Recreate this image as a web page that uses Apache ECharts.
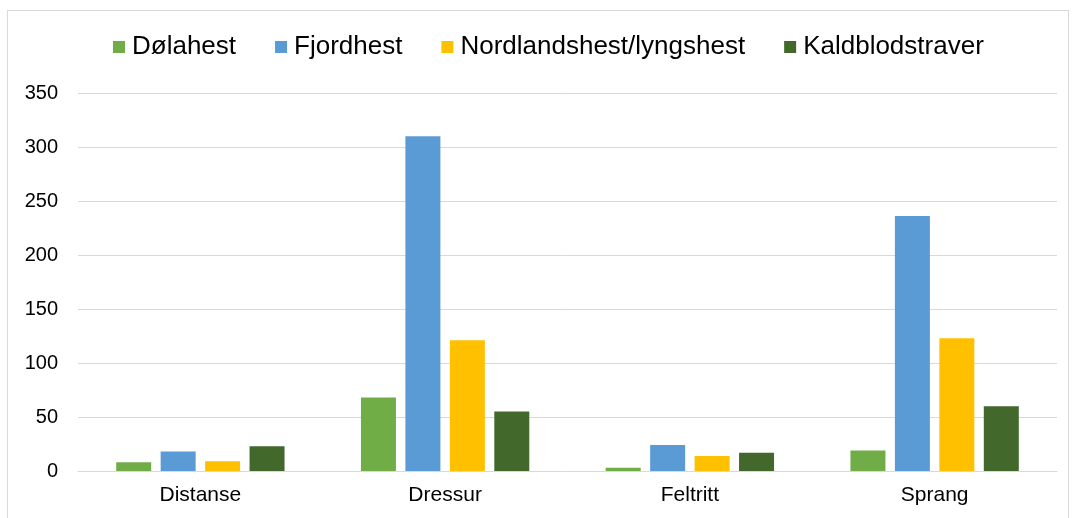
<!DOCTYPE html>
<html><head><meta charset="utf-8">
<script src="https://cdn.jsdelivr.net/npm/echarts@6/dist/echarts.min.js"></script>
<style>
html,body{margin:0;padding:0;background:#fff;}
#frame{position:absolute;left:7px;top:10px;width:1062px;height:520px;border:1px solid #d9d9d9;box-sizing:border-box;}
#chart{position:absolute;left:0;top:0;width:1072px;height:518px;}
</style></head>
<body>
<div id="frame"></div>
<div id="chart"></div>
<script>
const categories = ['Distanse', 'Dressur', 'Feltritt', 'Sprang'];
const seriesNames = ['Dølahest', 'Fjordhest', 'Nordlandshest/lyngshest', 'Kaldblodstraver'];
const dolahest = [8, 68, 3, 19];
const fjordhest = [18, 310, 24, 236];
const nordlandshest = [9, 121, 14, 123];
const kaldblodstraver = [23, 55, 17, 60];
const colors = ['#70AD47', '#5B9BD5', '#FFC000', '#43682B'];
const allValues = [dolahest, fjordhest, nordlandshest, kaldblodstraver];

const chart = echarts.init(document.getElementById('chart'));
chart.setOption({
  animation: false,
  legend: {
    top: 34,
    left: 113,
    padding: 0,
    itemWidth: 12,
    itemHeight: 12,
    itemGap: 39,
    icon: 'rect',
    textStyle: { fontFamily: 'Liberation Sans, Arial', fontSize: 26, color: '#000', padding: [0,0,0,2] },
    data: seriesNames
  },
  grid: { left: 78, right: 15, top: 93, bottom: 47, containLabel: false },
  xAxis: {
    type: 'category',
    data: categories,
    axisLine: { lineStyle: { color: '#d9d9d9', width: 1 } },
    axisTick: { show: false },
    axisLabel: { fontFamily: 'Liberation Sans, Arial', fontSize: 21, color: '#000', margin: 14 }
  },
  yAxis: {
    type: 'value',
    min: 0, max: 350, interval: 50,
    axisLine: { show: false },
    axisTick: { show: false },
    splitLine: { lineStyle: { color: '#d9d9d9', width: 1 } },
    axisLabel: { fontFamily: 'Liberation Sans, Arial', fontSize: 20, color: '#000', margin: 20 }
  },
  series: seriesNames.map((n, i) => ({
    name: n,
    type: 'bar',
    data: allValues[i],
    barWidth: 35,
    barGap: '27%',
    itemStyle: { color: colors[i] }
  }))
});
</script>
</body></html>
